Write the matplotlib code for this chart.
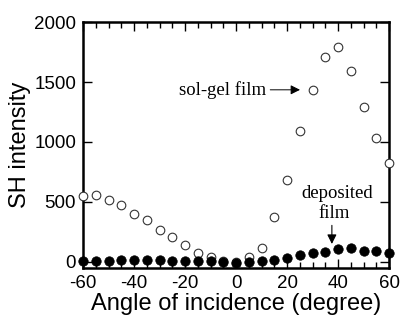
import matplotlib
matplotlib.use('Agg')
import matplotlib.pyplot as plt
from matplotlib.ticker import MultipleLocator

plt.rcParams['axes.unicode_minus'] = False

# 入射角 (degree)
angles = [-60, -55, -50, -45, -40, -35, -30, -25, -20, -15, -10, -5, 0,
          5, 10, 15, 20, 25, 30, 35, 40, 45, 50, 55, 60]
# sol-gel film (open circles)
solgel = [548, 562, 520, 471, 401, 351, 268, 204, 145, 78, 45, 5, -3,
          45, 118, 373, 685, 1090, 1435, 1706, 1796, 1590, 1290, 1032, 823]
# deposited film (filled circles)
deposited = [5, 7, 7, 18, 18, 18, 15, 12, 10, 12, 10, 3, -5,
             3, 12, 20, 35, 54, 77, 82, 104, 118, 90, 92, 73]

sans = 'Liberation Sans'
serif = 'Liberation Serif'

fig = plt.figure(figsize=(4, 3.24), dpi=100)
ax = fig.add_axes([0.2075, 0.173, 0.765, 0.759])

ax.plot(angles, solgel, 'o', ms=6.2, mfc='white', mec='#333333', mew=0.8,
        clip_on=False, zorder=3)
ax.plot(angles, deposited, 'o', ms=6.8, mfc='black', mec='black', mew=0.5,
        clip_on=False, zorder=4)

ax.set_xlim(-60, 60)
ax.set_ylim(-50, 2000)
ax.xaxis.set_major_locator(MultipleLocator(20))
ax.xaxis.set_minor_locator(MultipleLocator(5))
ax.yaxis.set_major_locator(MultipleLocator(500))
ax.tick_params(which='both', direction='in', top=True, right=True, width=1.0)
ax.tick_params(which='major', length=6.5, pad=5)
ax.tick_params(which='minor', length=4.5)
for s in ax.spines.values():
    s.set_linewidth(1.8)
for lab in ax.get_xticklabels() + ax.get_yticklabels():
    lab.set_fontfamily(sans)
    lab.set_fontsize(13.5)

ax.set_xlabel('Angle of incidence (degree)', fontfamily=sans, fontsize=17, labelpad=1)
ax.set_ylabel('SH intensity', fontfamily=sans, fontsize=17, labelpad=2)

# 注释
ax.annotate('sol-gel film', xy=(25.1, 1435), xytext=(11.8, 1435),
            ha='right', va='center', fontfamily=serif, fontsize=13.5,
            arrowprops=dict(arrowstyle='-|>', lw=0.7, color='black',
                            mutation_scale=14, shrinkA=1, shrinkB=0))
ax.text(39.8, 571, 'deposited', ha='center', va='center', fontfamily=serif, fontsize=13.5)
ax.text(38.5, 404, 'film', ha='center', va='center', fontfamily=serif, fontsize=13.5)
ax.annotate('', xy=(37.6, 150), xytext=(37.6, 305),
            arrowprops=dict(arrowstyle='-|>', lw=0.8, color='black',
                            mutation_scale=14, shrinkA=0, shrinkB=0))

fig.savefig('out.png', dpi=100)
